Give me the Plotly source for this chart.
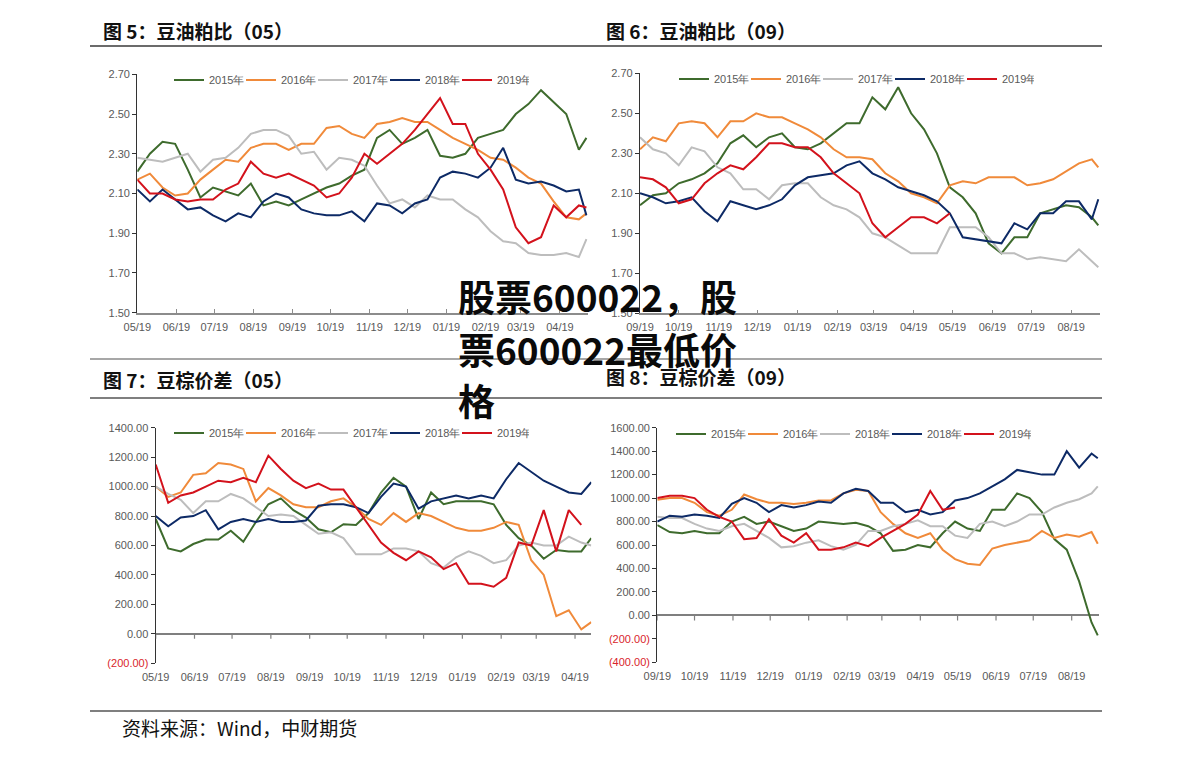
import plotly.graph_objects as go
import pandas as pd

W, H = 1191, 757

# ---------------- data (10-day steps + last point) ----------------
YEARS = ["2015年", "2016年", "2017年", "2018年", "2019年"]
YEARS_P8 = ["2015年", "2016年", "2018年", "2018年", "2019年"]
COLORS = ["#3e6b2d", "#f08a3a", "#bdbdbd", "#0d2a66", "#d3121c"]

# Fig 5: soybean oil / meal ratio (05)
P5_DATES = list(pd.date_range("2018-05-19", periods=36, freq="10D")) + [pd.Timestamp("2019-05-10")]
P5_2015 = [2.21, 2.30, 2.36, 2.35, 2.22, 2.08, 2.13, 2.11, 2.09, 2.15, 2.04, 2.06, 2.04, 2.07, 2.10, 2.13, 2.15, 2.19, 2.22,
           2.38, 2.42, 2.35, 2.38, 2.42, 2.29, 2.28, 2.30, 2.38, 2.40, 2.42, 2.50, 2.55, 2.62, 2.56, 2.50, 2.32, 2.38]
P5_2016 = [2.17, 2.20, 2.13, 2.09, 2.10, 2.17, 2.22, 2.27, 2.26, 2.33, 2.35, 2.35, 2.32, 2.35, 2.35, 2.43, 2.44, 2.40, 2.38,
           2.45, 2.46, 2.48, 2.46, 2.46, 2.42, 2.38, 2.35, 2.32, 2.28, 2.27, 2.23, 2.18, 2.15, 2.06, 1.98, 1.97, 2.00]
P5_2017 = [2.28, 2.27, 2.26, 2.28, 2.30, 2.21, 2.27, 2.28, 2.33, 2.40, 2.42, 2.42, 2.39, 2.30, 2.31, 2.22, 2.28, 2.27, 2.24,
           2.14, 2.05, 2.07, 2.03, 2.09, 2.07, 2.07, 2.02, 1.98, 1.91, 1.86, 1.85, 1.80, 1.79, 1.79, 1.80, 1.78, 1.87]
P5_2018 = [2.12, 2.06, 2.12, 2.07, 2.02, 2.03, 1.99, 1.96, 2.00, 1.98, 2.06, 2.10, 2.08, 2.02, 2.00, 1.99, 1.99, 2.01, 1.96,
           2.05, 2.04, 2.00, 2.05, 2.07, 2.18, 2.21, 2.20, 2.18, 2.23, 2.33, 2.17, 2.15, 2.16, 2.14, 2.11, 2.12, 1.99]
P5_2019 = [2.17, 2.10, 2.10, 2.07, 2.06, 2.07, 2.07, 2.12, 2.15, 2.26, 2.20, 2.18, 2.20, 2.17, 2.14, 2.08, 2.10, 2.18, 2.30,
           2.25, 2.30, 2.35, 2.42, 2.50, 2.58, 2.45, 2.45, 2.30, 2.22, 2.12, 1.93, 1.85, 1.88, 2.04, 1.98, 2.04, 2.03]

# Fig 6: soybean oil / meal ratio (09)
P6_DATES = list(pd.date_range("2018-09-19", periods=36, freq="10D")) + [pd.Timestamp("2019-09-09")]
P6_2015 = [2.04, 2.09, 2.10, 2.15, 2.17, 2.20, 2.25, 2.35, 2.39, 2.33, 2.38, 2.40, 2.33, 2.32, 2.35, 2.40, 2.45, 2.45, 2.58,
           2.52, 2.63, 2.50, 2.42, 2.30, 2.13, 2.08, 2.00, 1.85, 1.80, 1.88, 1.88, 2.00, 2.02, 2.04, 2.03, 1.98, 1.94]
P6_2016 = [2.32, 2.38, 2.36, 2.45, 2.46, 2.45, 2.38, 2.46, 2.46, 2.50, 2.48, 2.48, 2.45, 2.42, 2.38, 2.32, 2.28, 2.28, 2.27,
           2.20, 2.16, 2.10, 2.08, 2.05, 2.14, 2.16, 2.15, 2.18, 2.18, 2.18, 2.14, 2.15, 2.17, 2.21, 2.25, 2.27, 2.23]
P6_2017 = [2.38, 2.32, 2.30, 2.24, 2.33, 2.31, 2.23, 2.20, 2.12, 2.12, 2.07, 2.14, 2.15, 2.15, 2.08, 2.04, 2.02, 1.98, 1.90,
           1.88, 1.84, 1.80, 1.80, 1.80, 1.93, 1.93, 1.93, 1.88, 1.80, 1.80, 1.77, 1.78, 1.77, 1.76, 1.82, 1.76, 1.73]
P6_2018 = [2.10, 2.08, 2.05, 2.06, 2.08, 2.01, 1.96, 2.06, 2.04, 2.02, 2.04, 2.07, 2.14, 2.18, 2.19, 2.20, 2.24, 2.26, 2.20,
           2.17, 2.13, 2.11, 2.09, 2.06, 2.00, 1.88, 1.87, 1.86, 1.85, 1.95, 1.92, 2.00, 2.00, 2.06, 2.06, 1.97, 2.07]
P6_2019 = [2.18, 2.17, 2.13, 2.05, 2.07, 2.15, 2.20, 2.24, 2.22, 2.28, 2.35, 2.35, 2.33, 2.33, 2.28, 2.20, 2.15, 2.10, 1.95,
           1.88, 1.93, 1.98, 1.98, 1.95, 2.00]

# Fig 7: soybean - palm oil spread (05)
P7_DATES = list(pd.date_range("2018-05-19", periods=35, freq="10D")) + [pd.Timestamp("2019-05-02")]
P7_2015 = [780, 580, 560, 610, 640, 640, 700, 625, 760, 880, 920, 840, 790, 710, 690, 745, 740, 820, 960, 1060, 1000, 780,
           960, 880, 900, 900, 900, 880, 740, 650, 600, 510, 570, 560, 560, 650]
P7_2016 = [1000, 930, 960, 1080, 1090, 1160, 1150, 1120, 900, 990, 940, 880, 860, 860, 900, 920, 860, 780, 740, 820, 760,
           820, 800, 760, 720, 700, 700, 720, 760, 740, 500, 400, 120, 160, 30, 80]
P7_2017 = [1000, 950, 910, 820, 900, 900, 950, 920, 860, 800, 810, 800, 740, 680, 690, 650, 540, 540, 540, 580, 580, 560,
           480, 450, 520, 560, 530, 480, 500, 600, 620, 600, 600, 660, 620, 600]
P7_2018 = [800, 730, 790, 800, 840, 710, 760, 780, 760, 780, 760, 760, 770, 870, 880, 880, 860, 820, 930, 1020, 1000, 850,
           900, 920, 940, 920, 940, 920, 1050, 1160, 1100, 1040, 1000, 960, 950, 1030]
P7_2019 = [1150, 890, 940, 960, 1000, 1040, 1030, 1060, 1030, 1210, 1120, 1040, 990, 1020, 980, 980, 860, 740, 620, 550,
           500, 560, 520, 440, 480, 340, 340, 320, 380, 620, 600, 840, 560, 840, 740]

# Fig 8: soybean - palm oil spread (09)
P8_DATES = list(pd.date_range("2018-09-19", periods=36, freq="10D")) + [pd.Timestamp("2019-09-09")]
P8_2015 = [770, 710, 700, 720, 700, 700, 800, 840, 780, 800, 760, 720, 740, 800, 790, 780, 790, 760, 700, 550, 560, 600,
           580, 700, 800, 740, 720, 900, 900, 1040, 1000, 880, 650, 560, 290, -60, -170]
P8_2016 = [985, 1000, 1000, 960, 880, 850, 900, 1030, 990, 960, 960, 950, 960, 980, 980, 1040, 1070, 1060, 880, 780, 700,
           660, 700, 560, 480, 440, 430, 570, 600, 620, 640, 720, 660, 690, 670, 710, 610]
P8_2017 = [840, 830, 830, 780, 740, 720, 760, 780, 720, 660, 580, 590, 620, 640, 590, 560, 600, 720, 720, 760, 780, 810,
           760, 760, 680, 660, 780, 800, 760, 800, 860, 860, 920, 960, 990, 1040, 1100]
P8_2018 = [800, 850, 840, 860, 850, 830, 950, 1000, 960, 880, 940, 920, 940, 970, 960, 1040, 1080, 1060, 960, 960, 880, 900,
           860, 880, 980, 1000, 1040, 1100, 1160, 1240, 1220, 1200, 1200, 1400, 1260, 1380, 1340]
P8_2019 = [1000, 1020, 1020, 1000, 900, 840, 800, 650, 660, 820, 680, 620, 700, 560, 560, 580, 620, 590, 660, 720, 780, 860,
           1060, 900, 920]

TICKS_05 = list(pd.date_range("2018-05-19", periods=12, freq=pd.DateOffset(months=1)))
TICKS_09 = list(pd.date_range("2018-09-19", periods=12, freq=pd.DateOffset(months=1)))
RATIO_TICKS = [1.5, 1.7, 1.9, 2.1, 2.3, 2.5, 2.7]
SPREAD7_TICKS = [-200, 0, 200, 400, 600, 800, 1000, 1200, 1400]
SPREAD8_TICKS = [-400, -200, 0, 200, 400, 600, 800, 1000, 1200, 1400, 1600]


# ---------------- helpers ----------------
def px(x):
    return x / W


def py(y):
    return 1 - y / H


def spread_label(v):
    if v < 0:
        return '<span style="color:#d9252b">(%.2f)</span>' % (-v)
    return "%.2f" % v


TICK_FONT = dict(family="Liberation Sans, Arial, sans-serif", size=11, color="#595959")

panels = [
    dict(title="图 5：豆油粕比（05）", tx=101, ty=31, dates=P5_DATES,
         series=[P5_2015, P5_2016, P5_2017, P5_2018, P5_2019], names=YEARS,
         xdom=(137.3, 587.7), ydom=(74.3, 312.7), xrange=("2018-05-19", "2019-05-11"),
         yrange=(1.5, 2.7), yticks=RATIO_TICKS, ytext=["%.2f" % v for v in RATIO_TICKS],
         xticks=TICKS_05, zero=False, legx=169, legy=80),
    dict(title="图 6：豆油粕比（09）", tx=604, ty=31, dates=P6_DATES,
         series=[P6_2015, P6_2016, P6_2017, P6_2018, P6_2019], names=YEARS,
         xdom=(640, 1099.6), ydom=(73.3, 313.3), xrange=("2018-09-19", "2019-09-10"),
         yrange=(1.5, 2.7), yticks=RATIO_TICKS, ytext=["%.2f" % v for v in RATIO_TICKS],
         xticks=TICKS_09, zero=False, legx=674, legy=79),
    dict(title="图 7：豆棕价差（05）", tx=101, ty=379, dates=P7_DATES,
         series=[P7_2015, P7_2016, P7_2017, P7_2018, P7_2019], names=YEARS,
         xdom=(155.7, 591.3), ydom=(427.7, 663.3), xrange=("2018-05-19", "2019-05-02"),
         yrange=(-200, 1400), yticks=SPREAD7_TICKS, ytext=[spread_label(v) for v in SPREAD7_TICKS],
         xticks=TICKS_05, zero=True, legx=169, legy=433),
    dict(title="图 8：豆棕价差（09）", tx=604, ty=376, dates=P8_DATES,
         series=[P8_2015, P8_2016, P8_2017, P8_2018, P8_2019], names=YEARS_P8,
         xdom=(657.3, 1099), ydom=(427.7, 662.3), xrange=("2018-09-19", "2019-09-10"),
         yrange=(-400, 1600), yticks=SPREAD8_TICKS, ytext=[spread_label(v) for v in SPREAD8_TICKS],
         xticks=TICKS_09, zero=True, legx=671, legy=434),
]

fig = go.Figure()
annotations = []
shapes = []
layout_extra = {}

for i, p in enumerate(panels, start=1):
    sfx = "" if i == 1 else str(i)
    xref, yref = "x" + sfx, "y" + sfx
    legname = "legend" + sfx
    for vals, name, color in zip(p["series"], p["names"], COLORS):
        fig.add_trace(go.Scatter(
            x=p["dates"][:len(vals)], y=vals, name=name, mode="lines",
            line=dict(color=color, width=2), xaxis=xref, yaxis=yref, legend=legname,
            hoverinfo="skip"))

    ypix_per_unit = (p["ydom"][1] - p["ydom"][0]) / (p["yrange"][1] - p["yrange"][0])

    xa = dict(domain=[px(p["xdom"][0]), px(p["xdom"][1])], anchor=yref, type="date",
              range=list(p["xrange"]), tickvals=p["xticks"], tickformat="%m/%d", automargin=False,
              showgrid=False, zeroline=False, tickfont=TICK_FONT, fixedrange=True)
    ya = dict(domain=[py(p["ydom"][1]), py(p["ydom"][0])], anchor=xref, automargin=False,
              range=list(p["yrange"]), tickvals=p["yticks"], ticktext=p["ytext"],
              showgrid=False, showline=True, linecolor="#333333", linewidth=1.3,
              ticks="outside", ticklen=4, tickcolor="#333333", tickfont=TICK_FONT, fixedrange=True)
    if p["zero"]:
        xa.update(showline=False, ticks="", ticklabelstandoff=6)
        ya.update(zeroline=True, zerolinecolor="#7f7f7f", zerolinewidth=1.5)
        tick_units = 5 / ypix_per_unit
        for t in p["xticks"]:
            shapes.append(dict(type="line", xref=xref, yref=yref, x0=t, x1=t, y0=0, y1=-tick_units,
                               line=dict(color="#7f7f7f", width=1.2)))
    else:
        xa.update(showline=True, linecolor="#8c8c8c", linewidth=1.5, ticks="inside", ticklen=4,
                  tickcolor="#8c8c8c", ticklabelstandoff=3)
        ya.update(zeroline=False)

    layout_extra["xaxis" + sfx] = xa
    layout_extra["yaxis" + sfx] = ya
    layout_extra[legname] = dict(
        x=px(p["legx"]), y=py(p["legy"]), xanchor="left", yanchor="middle", orientation="h",
        bgcolor="rgba(0,0,0,0)", font=dict(family="Liberation Sans, Arial, sans-serif", size=11, color="#595959"),
        itemwidth=30, entrywidth=27, entrywidthmode="pixels", tracegroupgap=0, itemclick=False)

    annotations.append(dict(text=p["title"], x=px(p["tx"]), y=py(p["ty"]), xref="paper", yref="paper",
                            xanchor="left", yanchor="middle", showarrow=False,
                            font=dict(family="Noto Sans CJK SC", size=19, color="#111111", weight="bold")))

# separator rules
for yy, col in [(46, "#3a3a3a"), (359, "#8a8a8a"), (398, "#555555"), (711, "#555555")]:
    shapes.append(dict(type="line", xref="paper", yref="paper", x0=px(90), x1=px(1102), y0=py(yy), y1=py(yy),
                       line=dict(color=col, width=1.5)))

# footer
annotations.append(dict(text="资料来源：Wind，中财期货", x=px(120), y=py(727), xref="paper", yref="paper",
                        xanchor="left", yanchor="middle", showarrow=False,
                        font=dict(family="Noto Sans CJK SC", size=19, color="#111111")))

# overlaid headline text
for txt, yy in [("股票600022，股", 296), ("票600022最低价", 349), ("格", 400)]:
    annotations.append(dict(text=txt, x=px(456), y=py(yy), xref="paper", yref="paper",
                            xanchor="left", yanchor="middle", showarrow=False,
                            font=dict(family="Noto Sans CJK SC", size=37, color="#0a0a0a", weight="bold")))

fig.update_layout(
    width=W, height=H, margin=dict(l=0, r=0, t=0, b=0, pad=0, autoexpand=False),
    paper_bgcolor="white", plot_bgcolor="white", showlegend=True,
    annotations=annotations, shapes=shapes, **layout_extra)

fig.write_html(
    "out.html",
    post_script="document.body.style.margin='0';document.body.style.padding='0';"
                "document.documentElement.style.overflow='hidden';document.body.style.overflow='hidden';")
